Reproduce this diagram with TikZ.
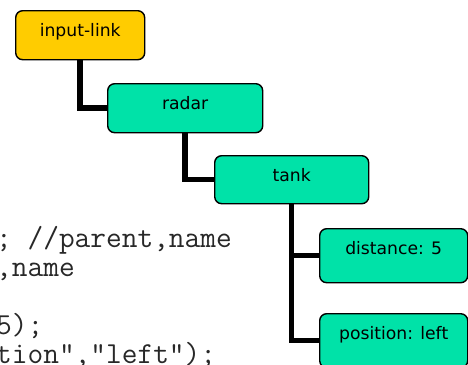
\documentclass[tikz,border=0pt]{standalone}
\usepackage{fontspec}
\newfontfamily\boxfont{DejaVu Sans}
\definecolor{linkgold}{RGB}{255,204,0}
\definecolor{wmegreen}{RGB}{0,226,168}
\definecolor{codegray}{RGB}{40,40,40}
\tikzset{
  wmebox/.style={draw=black, line width=1.4pt, rounded corners=7pt,
    anchor=north west, inner xsep=0pt, inner ysep=0pt,
    text height=26pt, font=\boxfont\fontsize{17.2}{20}\selectfont},
  idbox/.style={wmebox, fill=linkgold},
  attrbox/.style={wmebox, fill=wmegreen},
  link/.style={line width=5.5pt, line join=miter, draw=black},
  codeline/.style={anchor=base west, inner sep=0pt, text=codegray,
    font=\ttfamily\fontsize{30.5}{29}\selectfont}
}
\begin{document}
\begin{tikzpicture}[x=1pt, y=-1pt]
  \useasboundingbox (0,0) rectangle (468,364);
  \clip (0,0) rectangle (468,364);

  % fragments of the source listing
  \node[codeline] (c1) at (-4,247) {; //parent,name};
  \node[codeline] (c2) at (-4,276) {,name};
  \node[codeline] (c4) at (-4,334) {5);};
  \node[codeline] (c5) at (-4,363) {tion","left");};

  % working memory tree
  \node[idbox, minimum width=129pt, text depth=23pt] (il) at (15,10) {input-link};
  \node[attrbox, minimum width=155pt, text depth=23pt] (radar) at (107,83) {radar};
  \node[attrbox, minimum width=154pt, text depth=22pt] (tank) at (214,155) {tank};
  \node[attrbox, minimum width=148pt, text depth=28pt] (dist) at (319,228) {distance: 5};
  \node[attrbox, minimum width=148pt, text depth=28pt] (pos) at (319,313) {position: left};

  % parent-child links
  \draw[link] (il.south) |- (radar.west);
  \draw[link] (radar.south) |- (tank.west);
  \draw[link] (tank.south) |- (dist.west);
  \draw[link] (tank.south) |- (pos.west);
\end{tikzpicture}
\end{document}
